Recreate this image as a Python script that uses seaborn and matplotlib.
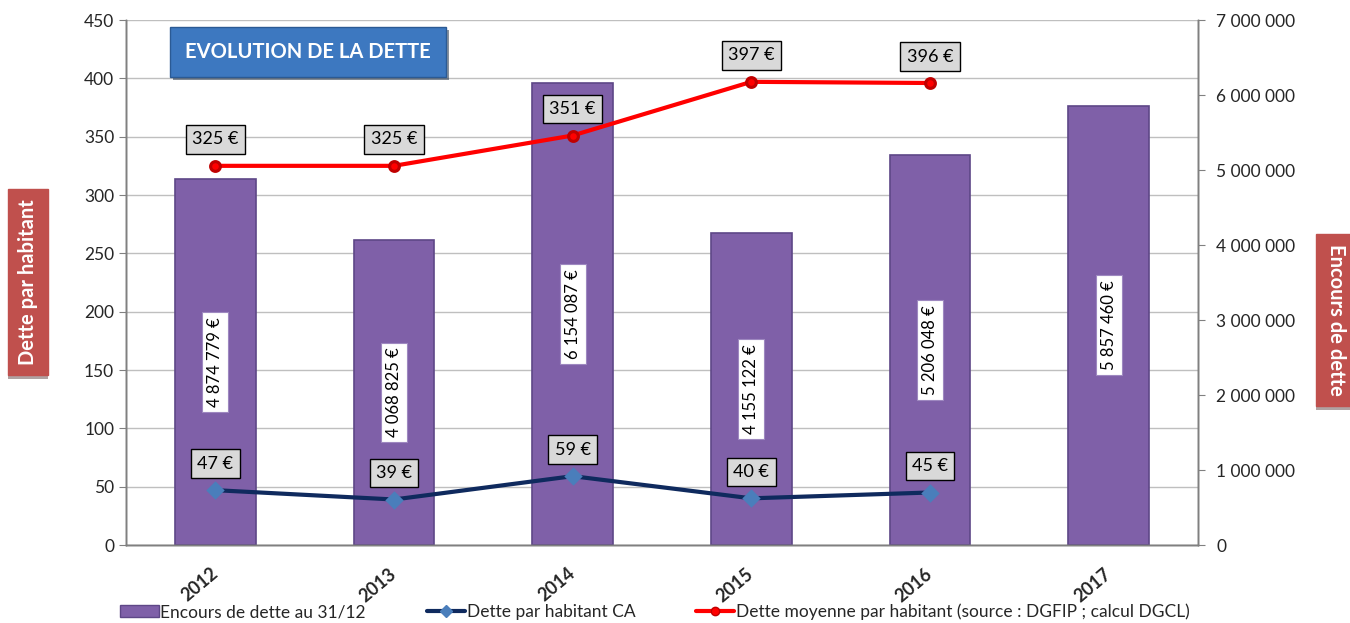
import numpy as np
import seaborn as sns
import matplotlib.pyplot as plt
import matplotlib.patheffects as pe
from matplotlib.lines import Line2D
from matplotlib.patches import Patch

# data
years = ['2012', '2013', '2014', '2015', '2016', '2017']
encours = [4874779, 4068825, 6154087, 4155122, 5206048, 5857460]
years_line = ['2012', '2013', '2014', '2015', '2016']
dette_hab_ca = [47, 39, 59, 40, 45]
dette_moyenne = [325, 325, 351, 397, 396]

left_ticks = list(range(0, 451, 50))
right_ticks = list(range(0, 7000001, 1000000))

bar_color = '#7F60A8'
blue_line = '#0F2A5E'
blue_marker = '#4A7EBB'
red_line = '#FF0000'
label_red = '#C0504D'

sns.set_style('white')
plt.rcParams['font.family'] = ['Lato', 'DejaVu Sans']

fig = plt.figure(figsize=(13.5, 6.23), dpi=100)
rect = [126 / 1350, 1 - 545 / 623, (1198 - 126) / 1350, (545 - 20) / 623]
ax_left = fig.add_axes(rect)
ax_bar = ax_left.twinx()
ax_line = ax_left.twinx()

# bars (right axis scale)
sns.barplot(x=years, y=encours, order=years, ax=ax_bar, color=bar_color,
            width=0.45, saturation=1, edgecolor='#5E4787', linewidth=1.2)
ax_bar.set_ylim(0, 7000000)
ax_bar.set_yticks(right_ticks)
ax_bar.set_yticklabels([f'{v:,}'.replace(',', ' ') for v in right_ticks])
ax_bar.yaxis.tick_right()

for i, v in enumerate(encours):
    ax_bar.text(i, v / 2, f'{v:,} €'.replace(',', ' '), rotation=90,
                ha='center', va='center', fontsize=12, color='black',
                bbox=dict(boxstyle='square,pad=0.3', fc='white', ec='#9E88C0', lw=0.8))

# lines (left axis scale)
sns.pointplot(x=years_line, y=dette_hab_ca, order=years, ax=ax_line, color=blue_line,
              markers='D', linestyles='-', errorbar=None, linewidth=3,
              markersize=7, markerfacecolor=blue_marker, markeredgecolor=blue_marker)
sns.pointplot(x=years_line, y=dette_moyenne, order=years, ax=ax_line, color=red_line,
              markers='o', linestyles='-', errorbar=None, linewidth=3,
              markersize=7, markerfacecolor=red_line, markeredgecolor='#C00000')
ax_line.set_ylim(0, 450)
ax_line.yaxis.set_visible(False)

box_style = dict(boxstyle='square,pad=0.35', fc='#D9D9D9', ec='black', lw=1)
for series in (dette_hab_ca, dette_moyenne):
    for yr, v in zip(years_line, series):
        ax_line.annotate(f'{v} €', (years.index(yr), v), xytext=(0, 19),
                         textcoords='offset points', ha='center', va='center',
                         fontsize=13, color='black', bbox=box_style)

# left axis with grid
ax_left.set_ylim(0, 450)
ax_left.set_yticks(left_ticks)
ax_left.yaxis.grid(True, color='#BFBFBF', lw=1)
ax_left.set_axisbelow(True)
ax_left.set_xlim(-0.5, len(years) - 0.5)
ax_left.set_xticks(range(len(years)))
ax_left.set_xticklabels(years, rotation=40, ha='right', va='center',
                        rotation_mode='anchor', fontweight='bold', fontsize=13)
ax_left.set_xticks(np.arange(-0.5, len(years)), minor=True)
ax_left.tick_params(axis='x', which='major', length=0, pad=19)
ax_left.tick_params(axis='x', which='minor', length=6, color='#808080', direction='out')
ax_left.tick_params(axis='y', length=5, color='#808080', labelsize=12.5, direction='out', left=True)
ax_bar.tick_params(axis='y', length=5, color='#808080', labelsize=12.5, direction='out', pad=8, right=True)

for a in (ax_left, ax_bar, ax_line):
    a.set_xlabel('')
    a.set_ylabel('')
    for s in a.spines.values():
        s.set_color('#808080')
        s.set_linewidth(1)
    a.spines['top'].set_visible(False)

# title box
t = fig.text(308 / 1350, 1 - 52 / 623, 'EVOLUTION DE LA DETTE', ha='center', va='center',
             fontsize=14.5, fontweight='bold', color='white',
             bbox=dict(boxstyle='square,pad=0.75', fc='#3D78C0', ec='#2B5A94', lw=1))
t.get_bbox_patch().set_path_effects([pe.withSimplePatchShadow(offset=(2, -2), alpha=0.5)])

# axis title boxes
lab_bbox = dict(boxstyle='square,pad=0.5', fc=label_red, ec=label_red)
t1 = fig.text(28 / 1350, 1 - 282 / 623, 'Dette par habitant', rotation=90, ha='center',
              va='center', fontsize=14.5, fontweight='bold', color='white', bbox=lab_bbox)
t2 = fig.text(1336 / 1350, 1 - 320 / 623, 'Encours de dette', rotation=270, ha='center',
              va='center', fontsize=14.5, fontweight='bold', color='white', bbox=lab_bbox)
for tt in (t1, t2):
    tt.get_bbox_patch().set_path_effects([pe.withSimplePatchShadow(offset=(0, -3), alpha=0.4)])

# legend
handles = [
    Patch(facecolor=bar_color, edgecolor='#5E4787', label='Encours de dette au 31/12'),
    Line2D([], [], color=blue_line, lw=3, marker='D', markersize=6,
           markerfacecolor=blue_marker, markeredgecolor=blue_marker, label='Dette par habitant CA'),
    Line2D([], [], color=red_line, lw=3, marker='o', markersize=6,
           markerfacecolor=red_line, markeredgecolor='#C00000',
           label='Dette moyenne par habitant (source : DGFIP ; calcul DGCL)'),
]
fig.legend(handles=handles, loc='center', bbox_to_anchor=(655 / 1350, 1 - 612 / 623), ncol=3,
           frameon=False, fontsize=12.5, handlelength=2.2, handletextpad=0.1,
           columnspacing=3.5)

fig.savefig('out.png', dpi=100)
